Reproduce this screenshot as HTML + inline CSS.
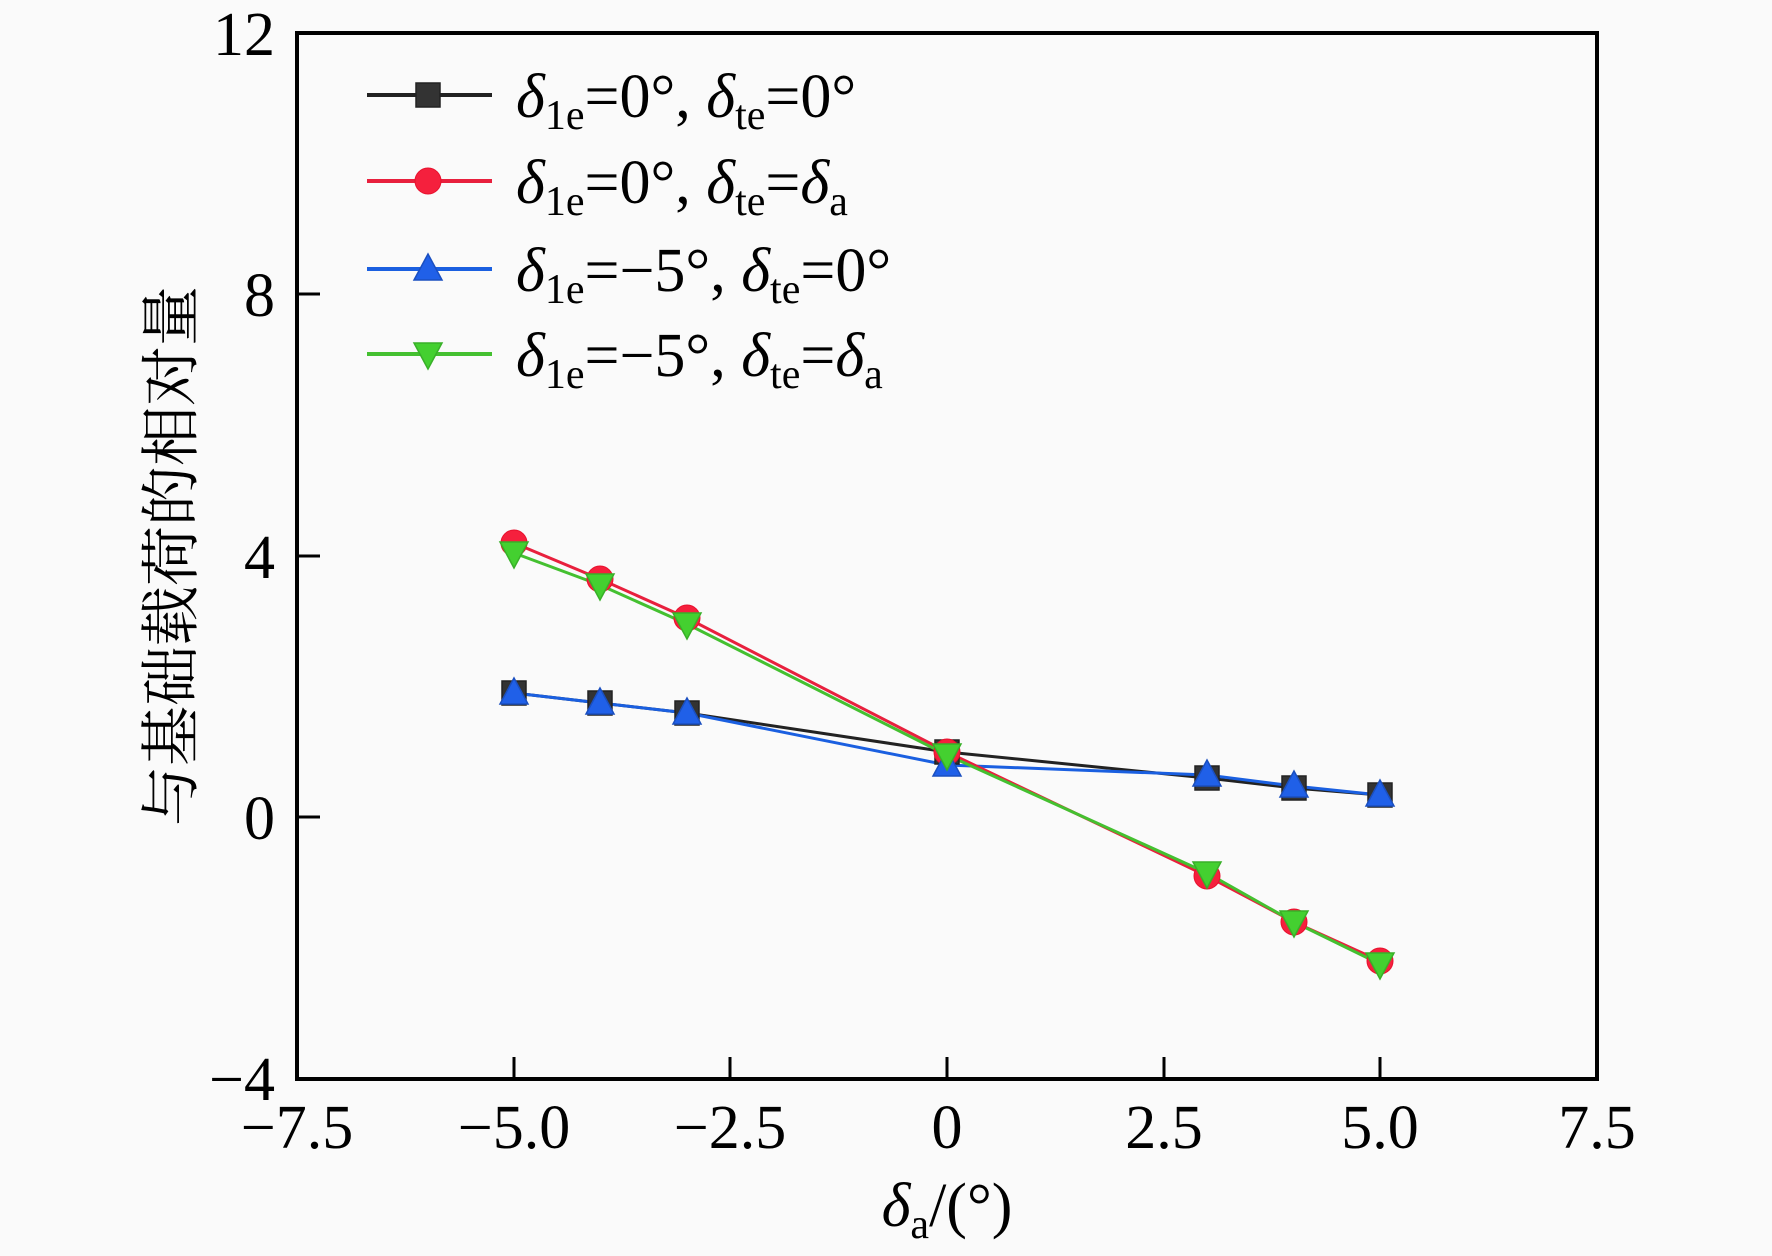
<!DOCTYPE html>
<html><head><meta charset="utf-8"><style>html,body{margin:0;padding:0;background:#fafafa}svg{display:block}</style></head>
<body>
<svg width="1772" height="1256" viewBox="0 0 1772 1256" xmlns="http://www.w3.org/2000/svg" font-family="'Liberation Serif',serif">
<rect width="1772" height="1256" fill="#fafafa"/>
<defs>
<g id="sq"><rect x="-12" y="-12" width="24" height="24" fill="#333" stroke="#222" stroke-width="1.5"/></g>
<g id="ci"><circle r="13" fill="#f5203d" stroke="#e8102d" stroke-width="1"/></g>
<g id="tu"><polygon points="0,-15 14,11 -14,11" fill="#2060e8" stroke="#1a4fc0" stroke-width="1.5"/></g>
<g id="td"><polygon points="0,15 14,-11 -14,-11" fill="#44d030" stroke="#38b028" stroke-width="1.5"/></g>
</defs>
<!-- axes -->
<rect x="297" y="33" width="1300" height="1046" fill="none" stroke="#000" stroke-width="4"/>
<g stroke="#000" stroke-width="3">
<line x1="514" y1="1079" x2="514" y2="1057"/><line x1="730" y1="1079" x2="730" y2="1057"/>
<line x1="947" y1="1079" x2="947" y2="1057"/><line x1="1164" y1="1079" x2="1164" y2="1057"/>
<line x1="1380" y1="1079" x2="1380" y2="1057"/>
<line x1="297" y1="294" x2="320" y2="294"/><line x1="297" y1="556" x2="320" y2="556"/>
<line x1="297" y1="817" x2="320" y2="817"/>
</g>
<g font-size="62" fill="#000" text-anchor="middle">
<text x="297" y="1148">−7.5</text><text x="514" y="1148">−5.0</text><text x="730" y="1148">−2.5</text>
<text x="947" y="1148">0</text><text x="1164" y="1148">2.5</text><text x="1380" y="1148">5.0</text><text x="1597" y="1148">7.5</text>
</g>
<g font-size="62" fill="#000" text-anchor="end">
<text x="275" y="55">12</text><text x="275" y="316">8</text><text x="275" y="578">4</text>
<text x="275" y="839">0</text><text x="275" y="1100">−4</text>
</g>
<text transform="translate(192,556) rotate(-90)" text-anchor="middle" font-size="60" font-family="'Liberation Serif','Noto Serif CJK SC','Noto Sans CJK SC',serif">与基础载荷的相对量</text>
<text x="947" y="1226" text-anchor="middle" font-size="62"><tspan font-style="italic">δ</tspan><tspan font-size="42" dy="12">a</tspan><tspan dy="-12">/(°)</tspan></text>
<!-- series -->
<polyline fill="none" stroke="#222" stroke-width="3" points="514,693 600,703 687,713 947,752 1207,778 1294,788 1380,795"/>
<polyline fill="none" stroke="#1a5fe0" stroke-width="3" points="514,693 600,703 687,713 947,765 1207,775 1294,786 1380,795"/>
<polyline fill="none" stroke="#e8203d" stroke-width="3" points="514,543 600,579 687,618 947,752 1207,876 1294,922 1380,961"/>
<polyline fill="none" stroke="#44c030" stroke-width="3" points="514,553 600,585 687,624 947,755 1207,873 1294,922 1380,964"/>
<g>
<use href="#sq" x="514" y="693"/><use href="#sq" x="600" y="703"/><use href="#sq" x="687" y="713"/><use href="#sq" x="947" y="752"/><use href="#sq" x="1207" y="778"/><use href="#sq" x="1294" y="788"/><use href="#sq" x="1380" y="795"/>
<use href="#ci" x="514" y="543"/><use href="#ci" x="600" y="579"/><use href="#ci" x="687" y="618"/><use href="#ci" x="947" y="752"/><use href="#ci" x="1207" y="876"/><use href="#ci" x="1294" y="922"/><use href="#ci" x="1380" y="961"/>
<use href="#tu" x="514" y="693"/><use href="#tu" x="600" y="703"/><use href="#tu" x="687" y="713"/><use href="#tu" x="947" y="765"/><use href="#tu" x="1207" y="775"/><use href="#tu" x="1294" y="786"/><use href="#tu" x="1380" y="795"/>
<use href="#td" x="514" y="553"/><use href="#td" x="600" y="585"/><use href="#td" x="687" y="624"/><use href="#td" x="947" y="755"/><use href="#td" x="1207" y="873"/><use href="#td" x="1294" y="922"/><use href="#td" x="1380" y="964"/>
</g>
<!-- legend -->
<line x1="367" y1="95" x2="492" y2="95" stroke="#222" stroke-width="4"/><use href="#sq" x="428" y="95"/>
<line x1="367" y1="181" x2="492" y2="181" stroke="#e8203d" stroke-width="4"/><use href="#ci" x="428" y="181"/>
<line x1="367" y1="269" x2="492" y2="269" stroke="#1a5fe0" stroke-width="4"/><use href="#tu" x="428" y="269"/>
<line x1="367" y1="354" x2="492" y2="354" stroke="#44c030" stroke-width="4"/><use href="#td" x="428" y="354"/>
<g font-size="62" fill="#000">
<text x="516" y="117"><tspan font-style="italic">δ</tspan><tspan font-size="42" dy="12">1e</tspan><tspan dy="-12">=0°, </tspan><tspan font-style="italic">δ</tspan><tspan font-size="42" dy="12">te</tspan><tspan dy="-12">=0°</tspan></text>
<text x="516" y="203"><tspan font-style="italic">δ</tspan><tspan font-size="42" dy="12">1e</tspan><tspan dy="-12">=0°, </tspan><tspan font-style="italic">δ</tspan><tspan font-size="42" dy="12">te</tspan><tspan dy="-12">=</tspan><tspan font-style="italic">δ</tspan><tspan font-size="42" dy="12">a</tspan></text>
<text x="516" y="291"><tspan font-style="italic">δ</tspan><tspan font-size="42" dy="12">1e</tspan><tspan dy="-12">=−5°, </tspan><tspan font-style="italic">δ</tspan><tspan font-size="42" dy="12">te</tspan><tspan dy="-12">=0°</tspan></text>
<text x="516" y="376"><tspan font-style="italic">δ</tspan><tspan font-size="42" dy="12">1e</tspan><tspan dy="-12">=−5°, </tspan><tspan font-style="italic">δ</tspan><tspan font-size="42" dy="12">te</tspan><tspan dy="-12">=</tspan><tspan font-style="italic">δ</tspan><tspan font-size="42" dy="12">a</tspan></text>
</g>
</svg>
</body></html>
